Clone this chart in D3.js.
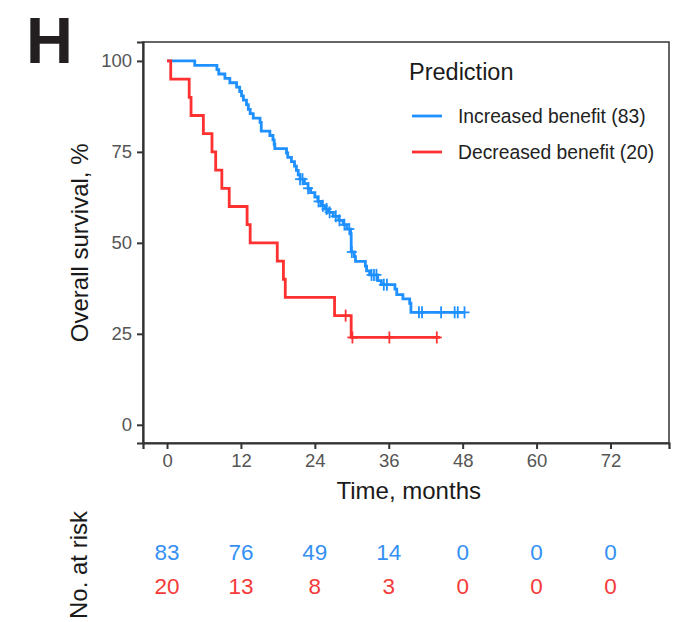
<!DOCTYPE html>
<html>
<head>
<meta charset="utf-8">
<script src="https://cdn.jsdelivr.net/npm/d3@7"></script>
<style>
  body { margin: 0; background: #fff; }
  svg { font-family: "Liberation Sans", Arial, sans-serif; }
</style>
</head>
<body>
<div id="chart-area"></div>
<script>
// Kaplan-Meier step events (months, % surviving)
let blueTimes = [0, 4.5, 8.1, 8.4, 9.4, 10.2, 11.3, 11.8, 12.1, 12.4, 12.9, 13.2, 13.5, 14.0,
                 15.1, 15.3, 16.7, 17.2, 17.4, 17.5, 19.4, 19.6, 20.2, 20.7, 21.0, 21.3, 21.6,
                 22.3, 22.9, 23.3, 24.0, 24.5, 25.0, 25.7, 26.2, 27.0, 27.9, 28.6, 29.2, 29.8,
                 29.9, 30.4, 30.6, 32.2, 32.4, 32.9, 34.2, 34.8, 37.0, 37.3, 38.3, 39.4, 39.6];
let blueSurv  = [100, 98.8, 97.6, 96.4, 95.2, 94.0, 92.8, 91.6, 90.4, 89.2, 88.0, 86.7, 85.5, 84.3,
                 83.1, 80.7, 79.5, 78.3, 77.1, 75.9, 74.7, 73.5, 72.3, 71.1, 69.9, 68.7, 67.5,
                 66.3, 65.0, 63.8, 62.6, 61.4, 60.2, 59.3, 58.4, 57.3, 56.2, 55.0, 53.8, 52.5,
                 47.5, 46.2, 44.9, 43.6, 42.3, 41.2, 39.6, 38.5, 37.3, 35.8, 34.6, 33.4, 30.9];
let blueEnd = 48.3;
let blueCensor = [21.6, 22.0, 22.9, 24.6, 25.3, 25.9, 26.4, 27.4, 28.0, 28.8, 29.6, 30.0,
                  33.2, 33.6, 34.0, 35.2, 35.7, 40.9, 41.4, 44.5, 46.7, 47.2, 48.3];

let redTimes = [0, 0.6, 3.6, 3.9, 5.9, 7.3, 7.9, 8.9, 10.1, 13.0, 13.5, 17.9, 18.9, 19.2, 27.2, 29.9];
let redSurv  = [100, 95, 90, 85, 80, 75, 70, 65, 60, 55, 50, 45, 40, 35, 30, 24];
let redEnd = 44.3;
let redCensor = [29.0, 30.1, 36.1, 43.8];

let xTicks = [0, 12, 24, 36, 48, 60, 72];
let yTicks = [0, 25, 50, 75, 100];

let groups = ["Increased benefit (83)", "Decreased benefit (20)"];
let atRiskBlue = [83, 76, 49, 14, 0, 0, 0];
let atRiskRed  = [20, 13, 8, 3, 0, 0, 0];

let blueCol = "#1E90FF";
let redCol = "#FF3030";

let margin = { left: 143, top: 42, right: 6, bottom: 179 };
let width = 675 - margin.left - margin.right;
let height = 622 - margin.top - margin.bottom;

let svg = d3.select("#chart-area")
  .append("svg")
  .attr("width", 675)
  .attr("height", 622);

svg.append("text")
  .attr("x", 26)
  .attr("y", 63)
  .attr("font-size", "65px")
  .attr("font-weight", "bold")
  .attr("fill", "#231f20")
  .text("H");

let g = svg.append("g")
  .attr("transform", `translate(${margin.left}, ${margin.top})`);

let x = d3.scaleLinear().domain([-3.9, 81.5]).range([0, width]);
let y = d3.scaleLinear().domain([-5.0, 105.2]).range([height, 0]);

// panel box
g.append("rect")
  .attr("width", width)
  .attr("height", height)
  .attr("fill", "none")
  .attr("stroke", "#333")
  .attr("stroke-width", 1.5);

let xAxis = g.append("g")
  .attr("transform", `translate(0, ${height})`)
  .call(d3.axisBottom(x).tickValues(xTicks).tickSizeOuter(0).tickSize(6).tickPadding(5));

let yAxis = g.append("g")
  .call(d3.axisLeft(y).tickValues(yTicks).tickSizeOuter(0).tickSize(6).tickPadding(5));

[xAxis, yAxis].forEach(function(a) {
  a.select(".domain").attr("stroke", "#333").attr("stroke-width", 2.2);
  a.selectAll(".tick line").attr("stroke", "#333").attr("stroke-width", 2);
  a.selectAll(".tick text")
    .attr("font-size", "18.5px")
    .attr("fill", "#555")
    .attr("font-family", "Liberation Sans, Arial, sans-serif");
});

g.append("text")
  .attr("text-anchor", "middle")
  .attr("transform", "rotate(-90)")
  .attr("x", -(y(50)))
  .attr("y", -55)
  .attr("font-size", "24px")
  .attr("fill", "#1a1a1a")
  .text("Overall survival, %");

g.append("text")
  .attr("text-anchor", "middle")
  .attr("x", x(36) + 20)
  .attr("y", height + 56)
  .attr("font-size", "24px")
  .attr("fill", "#1a1a1a")
  .text("Time, months");

let line = d3.line()
  .x(function(d) { return x(d[0]); })
  .y(function(d) { return y(d[1]); })
  .curve(d3.curveStepAfter);

function survAt(times, surv, t) {
  let i = d3.bisectRight(times, t) - 1;
  return surv[Math.max(0, i)];
}

function drawCurve(times, surv, end, censor, col) {
  let pts = times.map(function(t, i) { return [t, surv[i]]; });
  pts.push([end, surv[surv.length - 1]]);

  g.append("path")
    .datum(pts)
    .attr("fill", "none")
    .attr("stroke", col)
    .attr("stroke-width", 2.8)
    .attr("d", line);

  let marks = g.append("g");
  censor.forEach(function(t) {
    let cx = x(t), cy = y(survAt(times, surv, t));
    marks.append("line")
      .attr("x1", cx).attr("x2", cx)
      .attr("y1", cy - 6).attr("y2", cy + 6)
      .attr("stroke", col).attr("stroke-width", 1.8);
    marks.append("line")
      .attr("x1", cx - 5).attr("x2", cx + 5)
      .attr("y1", cy).attr("y2", cy)
      .attr("stroke", col).attr("stroke-width", 1.8);
  });
}

drawCurve(blueTimes, blueSurv, blueEnd, blueCensor, blueCol);
drawCurve(redTimes, redSurv, redEnd, redCensor, redCol);

// legend
let legend = g.append("g")
  .attr("transform", "translate(266, 38)");

legend.append("text")
  .attr("x", 0)
  .attr("y", 0)
  .attr("font-size", "23.5px")
  .attr("fill", "#1a1a1a")
  .text("Prediction");

[blueCol, redCol].forEach(function(col, i) {
  let row = legend.append("g")
    .attr("transform", "translate(0, " + (36 + i * 36) + ")");
  row.append("line")
    .attr("x1", 3).attr("x2", 33)
    .attr("y1", 0).attr("y2", 0)
    .attr("stroke", col)
    .attr("stroke-width", 2.8);
  row.append("text")
    .attr("x", 49)
    .attr("y", 7)
    .attr("font-size", "19.3px")
    .attr("fill", "#222")
    .text(groups[i]);
});

// number at risk table
svg.append("text")
  .attr("text-anchor", "middle")
  .attr("transform", "rotate(-90)")
  .attr("x", -565)
  .attr("y", 87)
  .attr("font-size", "24px")
  .attr("fill", "#1a1a1a")
  .text("No. at risk");

let risk = g.append("g");
[atRiskBlue, atRiskRed].forEach(function(row, i) {
  risk.selectAll(null)
    .data(row)
    .enter()
    .append("text")
    .attr("text-anchor", "middle")
    .attr("x", function(d, j) { return x(xTicks[j]); })
    .attr("y", height + 117 + i * 34)
    .attr("font-size", "22.5px")
    .attr("fill", i === 0 ? "#3590f5" : "#f53a3a")
    .text(function(d) { return d; });
});
</script>
</body>
</html>
